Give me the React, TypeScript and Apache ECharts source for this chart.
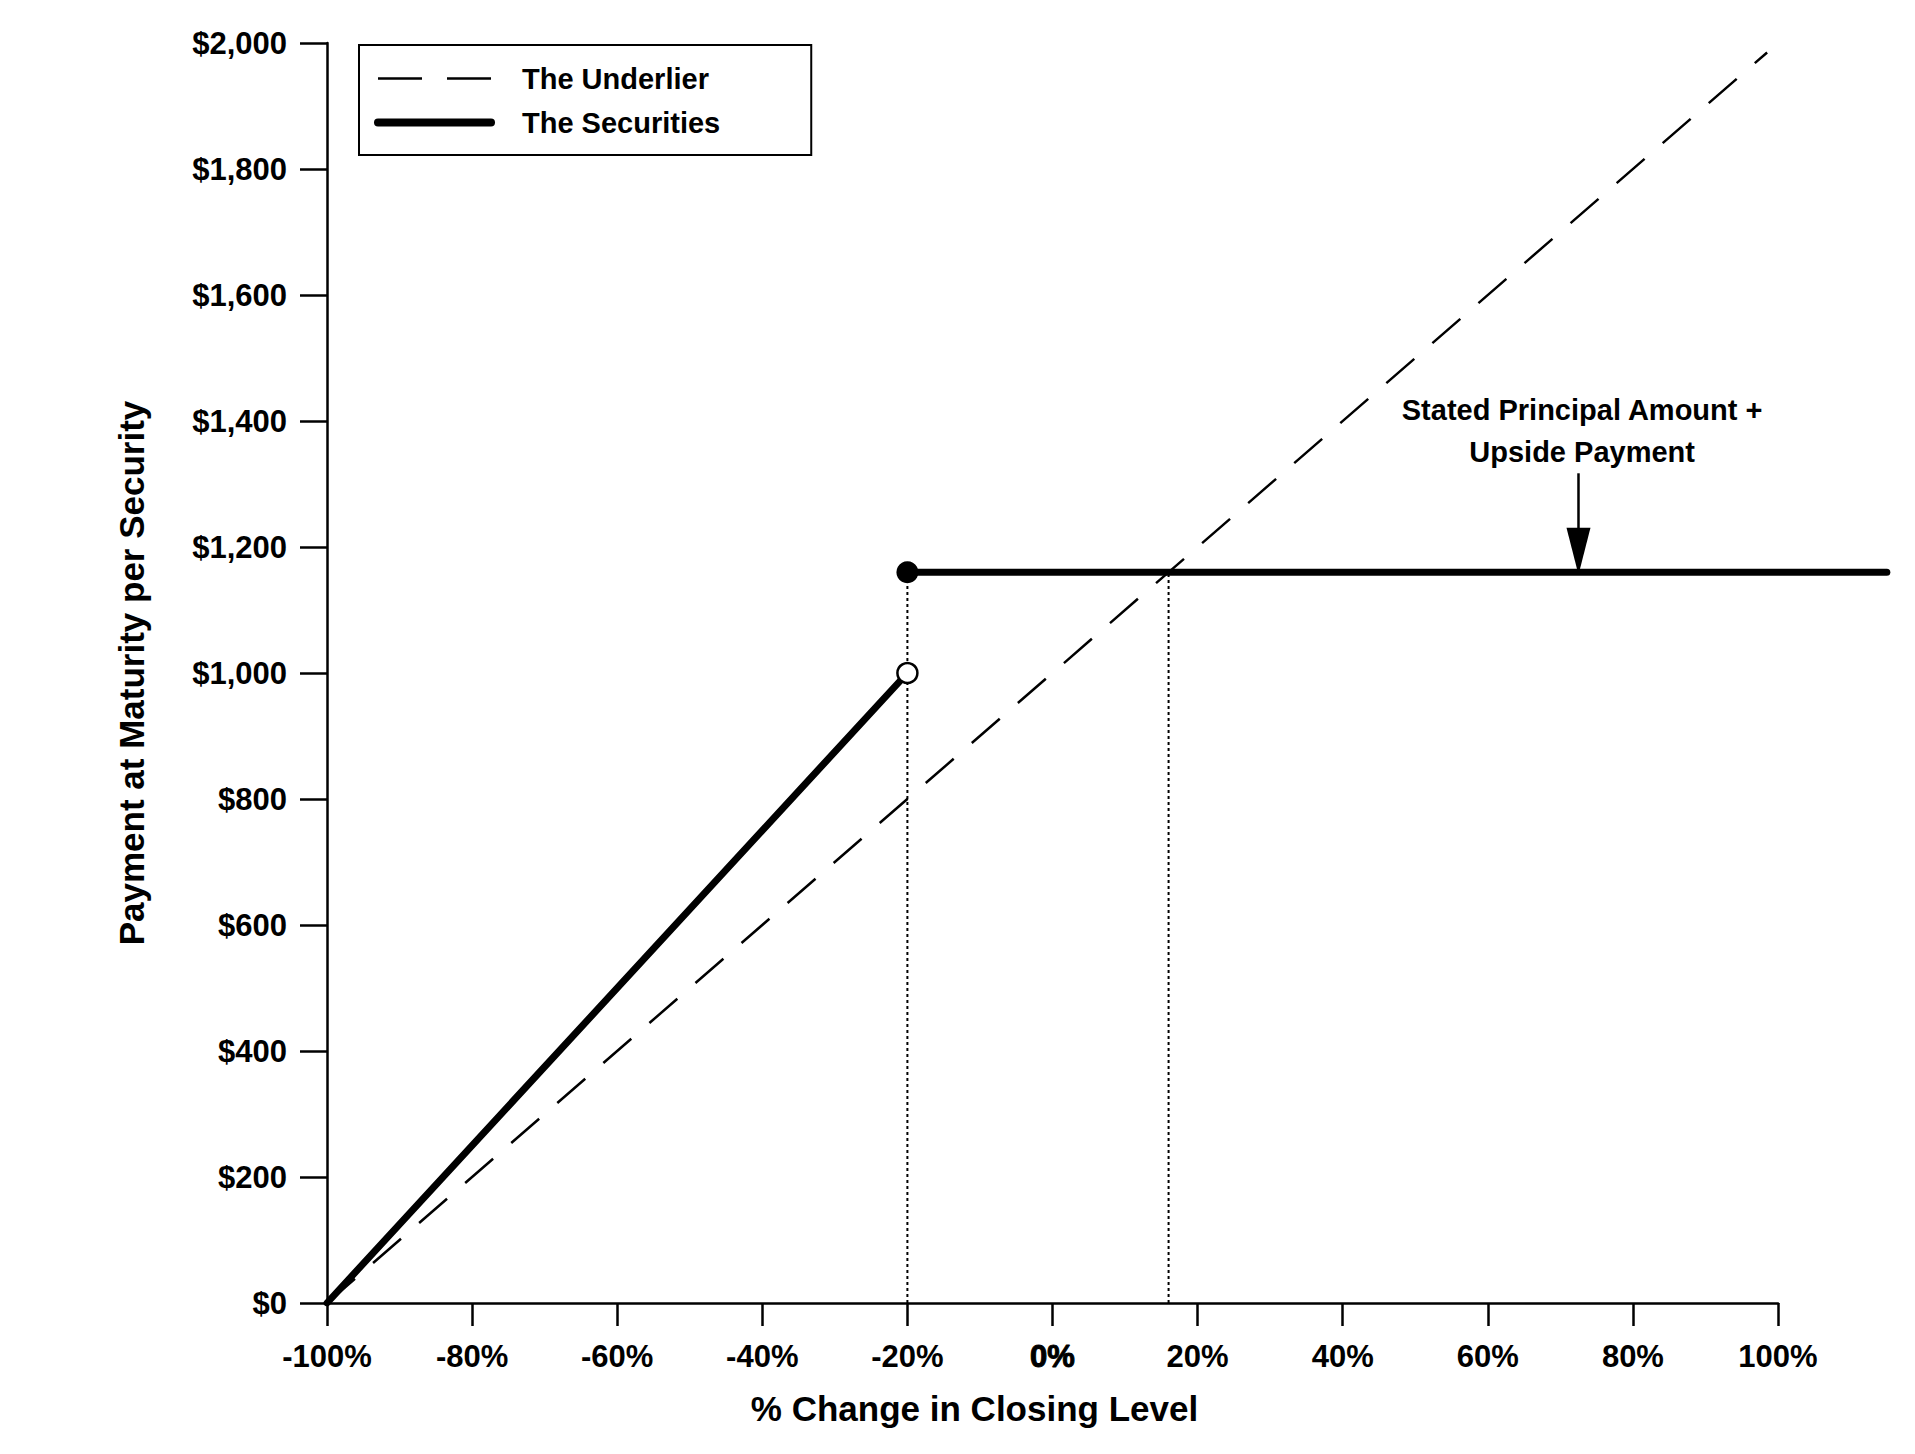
import React, { useEffect, useRef } from "react";
import * as echarts from "echarts";

// ---- data ----
const xMin = -100;
const xMax = 100;
const xStep = 20;
const xDataMax = 115; // the securities' cap line runs past the last tick
const yMin = 0;
const yMax = 2000;
const yStep = 200;

const underlierX = [-100, 98.5];
const underlierY = [0, 1985];

const securitiesLowX = [-100, -20];
const securitiesLowY = [0, 1000];

const securitiesCapX = [-20, 115];
const securitiesCapY = [1160, 1160];

const thresholdX = [-20, 16];
const thresholdTop = [1160, 1160];

const openDot = [-20, 1000];
const filledDot = [-20, 1160];

const annotationLines = ["Stated Principal Amount +", "Upside Payment"];
const annotationAt = [73, 1451];
const arrowFrom = [72.5, 1317];
const arrowTo = [72.5, 1156];

const legendNames = ["The Underlier", "The Securities"];
const xTitle = "% Change in Closing Level";
const yTitle = "Payment at Maturity per Security";

const FONT = "'Liberation Sans', Arial, Helvetica, sans-serif";

function pairs(xs: number[], ys: number[]) {
  return xs.map((x, i) => [x, ys[i]]);
}

export default function App() {
  const ref = useRef<HTMLDivElement | null>(null);

  useEffect(() => {
    if (!ref.current) return;
    const chart = echarts.init(ref.current, undefined, { renderer: "svg" });

    const W = 1915;
    const gridLeft = 327;
    const gridRight = 137;
    const plotW = W - gridLeft - gridRight;
    const pxPerUnit = plotW / (xMax - xMin);
    const dataGridRight = gridRight - (xDataMax - xMax) * pxPerUnit;

    const onData = { xAxisIndex: 1, yAxisIndex: 1 };

    const thresholdSeries = thresholdX.map((x, i) => ({
      type: "line",
      ...onData,
      silent: true,
      symbol: "none",
      data: [
        [x, yMin],
        [x, thresholdTop[i]],
      ],
      lineStyle: { color: "#000", width: 2, type: [3, 3] },
      z: 1,
    }));

    const option: any = {
      animation: false,
      backgroundColor: "#fff",
      textStyle: { fontFamily: FONT },
      grid: [
        { left: gridLeft, right: gridRight, top: 43, bottom: 151, containLabel: false },
        { left: gridLeft, right: dataGridRight, top: 43, bottom: 151, containLabel: false },
      ],
      legend: {
        left: 359,
        top: 45,
        orient: "vertical",
        padding: [19, 91, 18, 15],
        itemWidth: 113,
        itemHeight: 29,
        itemGap: 15,
        borderColor: "#000",
        borderWidth: 2,
        borderRadius: 0,
        backgroundColor: "#fff",
        selectedMode: false,
        itemStyle: { opacity: 0 },
        textStyle: {
          fontFamily: FONT,
          fontSize: 29,
          fontWeight: "bold",
          color: "#000",
          padding: [0, 0, 0, 26],
        },
        data: [
          {
            name: legendNames[0],
            itemStyle: { opacity: 0 },
            lineStyle: { type: [44, 25], width: 2.5, color: "#000" },
          },
          {
            name: legendNames[1],
            itemStyle: { opacity: 0 },
            lineStyle: { width: 8, color: "#000", cap: "round" },
          },
        ],
      },
      xAxis: [
        {
          type: "value",
          gridIndex: 0,
          min: xMin,
          max: xMax,
          interval: xStep,
          name: xTitle,
          nameLocation: "middle",
          nameGap: 88,
          nameTextStyle: {
            fontFamily: FONT,
            fontSize: 35,
            fontWeight: "bold",
            color: "#000",
            padding: [0, 156, 0, 0],
          },
          axisLine: { show: true, onZero: false, lineStyle: { color: "#000", width: 2.5 } },
          axisTick: { show: true, inside: false, length: 23, lineStyle: { color: "#000", width: 2.5 } },
          splitLine: { show: false },
          axisLabel: {
            margin: 38,
            fontFamily: FONT,
            fontSize: 31,
            fontWeight: "bold",
            color: "#000",
            formatter: (v: number) => (v === 0 ? "{z|0%}" : `${v}%`),
            rich: {
              z: {
                fontFamily: FONT,
                fontSize: 31,
                fontWeight: "bold",
                color: "#000",
                textBorderColor: "#000",
                textBorderWidth: 1,
              },
            },
          },
        },
        {
          type: "value",
          gridIndex: 1,
          min: xMin,
          max: xDataMax,
          show: false,
        },
      ],
      yAxis: [
        {
          type: "value",
          gridIndex: 0,
          min: yMin,
          max: yMax,
          interval: yStep,
          name: yTitle,
          nameLocation: "middle",
          nameGap: 178,
          nameTextStyle: {
            fontFamily: FONT,
            fontSize: 35,
            fontWeight: "bold",
            color: "#000",
          },
          axisLine: { show: true, onZero: false, lineStyle: { color: "#000", width: 2.5 } },
          axisTick: { show: true, inside: false, length: 27, lineStyle: { color: "#000", width: 2.5 } },
          splitLine: { show: false },
          axisLabel: {
            margin: 40,
            fontFamily: FONT,
            fontSize: 31,
            fontWeight: "bold",
            color: "#000",
            formatter: (v: number) => "$" + v.toLocaleString("en-US"),
          },
        },
        {
          type: "value",
          gridIndex: 1,
          min: yMin,
          max: yMax,
          show: false,
        },
      ],
      series: [
        ...thresholdSeries,
        {
          name: legendNames[0],
          type: "line",
          ...onData,
          symbol: "none",
          data: pairs(underlierX, underlierY),
          lineStyle: { color: "#000", width: 2.5, type: [37, 24] },
          itemStyle: { color: "#000" },
          z: 2,
        },
        {
          name: legendNames[1],
          type: "line",
          ...onData,
          symbol: "none",
          data: pairs(securitiesLowX, securitiesLowY),
          lineStyle: { color: "#000", width: 7, cap: "round" },
          itemStyle: { color: "#000" },
          z: 3,
        },
        {
          name: legendNames[1],
          type: "line",
          ...onData,
          symbol: "none",
          clip: false,
          data: pairs(securitiesCapX, securitiesCapY),
          lineStyle: { color: "#000", width: 7, cap: "round" },
          itemStyle: { color: "#000" },
          z: 3,
        },
        {
          type: "scatter",
          ...onData,
          silent: true,
          symbol: "circle",
          symbolSize: 22,
          data: [filledDot],
          itemStyle: { color: "#000", opacity: 1 },
          z: 4,
        },
        {
          type: "scatter",
          ...onData,
          silent: true,
          symbol: "circle",
          symbolSize: 20,
          data: [openDot],
          itemStyle: { color: "#fff", borderColor: "#000", borderWidth: 2.5, opacity: 1 },
          z: 4,
        },
      ],
    };

    chart.setOption(option);

    const finder = { xAxisIndex: 1, yAxisIndex: 1 };
    const p0 = chart.convertToPixel(finder, arrowFrom) as number[];
    const p1 = chart.convertToPixel(finder, arrowTo) as number[];
    const t = chart.convertToPixel(finder, annotationAt) as number[];
    const headH = 47;
    const headW = 24;

    chart.setOption({
      graphic: [
        {
          type: "line",
          silent: true,
          shape: { x1: p0[0], y1: p0[1], x2: p1[0], y2: p1[1] - headH + 2 },
          style: { stroke: "#000", lineWidth: 2.5 },
          z: 10,
        },
        {
          type: "polygon",
          silent: true,
          shape: {
            points: [
              [p1[0] - headW / 2, p1[1] - headH],
              [p1[0] + headW / 2, p1[1] - headH],
              [p1[0], p1[1]],
            ],
          },
          style: { fill: "#000" },
          z: 10,
        },
        {
          type: "text",
          silent: true,
          x: t[0],
          y: t[1],
          style: {
            text: annotationLines.join("\n"),
            fontFamily: FONT,
            fontSize: 29,
            fontWeight: "bold",
            lineHeight: 42,
            fill: "#000",
            align: "center",
            verticalAlign: "top",
          },
          z: 10,
        },
      ],
    });

    return () => {
      chart.dispose();
    };
  }, []);

  return (
    <div
      ref={ref}
      style={{
        position: "fixed",
        left: 0,
        top: 0,
        width: 1915,
        height: 1454,
        background: "#fff",
      }}
    />
  );
}
